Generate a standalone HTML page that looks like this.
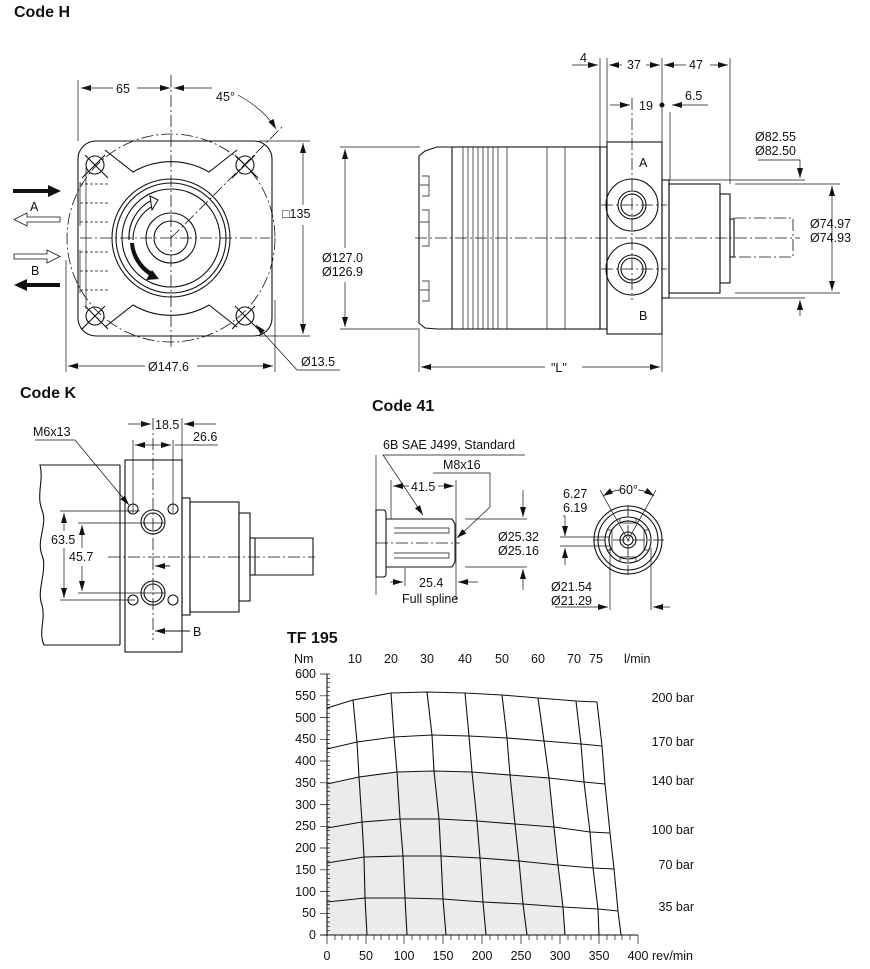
<!DOCTYPE html>
<html><head><meta charset="utf-8"><style>
html,body{margin:0;padding:0;background:#fff;}
svg{display:block;}
text{font-family:"Liberation Sans",Arial,sans-serif;font-size:12.5px;fill:#111;}
.b{font-weight:bold;font-size:16px;}
.l{stroke:#111;stroke-width:1.1;fill:none;}
.t{stroke:#111;stroke-width:0.7;fill:none;}
.cl{stroke:#111;stroke-width:0.8;fill:none;stroke-dasharray:12 3 2 3;}
.d{stroke:#111;stroke-width:0.8;fill:none;stroke-dasharray:3 2;}
</style></head><body>
<svg width="870" height="969" viewBox="0 0 870 969" xmlns="http://www.w3.org/2000/svg">
<defs>
<marker id="a" viewBox="0 0 10 6" refX="10" refY="3" markerWidth="10" markerHeight="6" orient="auto-start-reverse" markerUnits="userSpaceOnUse"><path d="M0,0 L10,3 L0,6 z" fill="#111"/></marker>
</defs>

<!-- ============ CODE H FRONT ============ -->
<text x="14" y="17" class="b">Code H</text>
<rect x="78" y="141" width="194" height="195" rx="18" class="l"/>
<circle cx="171" cy="238" r="104" class="cl"/>
<path d="M105,150 L133,172 A75,75 0 0 1 209,172 L237,150" class="l"/>
<path d="M105,327 L133,305 A75,75 0 0 0 209,305 L237,327" class="l"/>
<path d="M86,168 L86,309" class="t"/>
<circle cx="171" cy="238" r="59" class="l"/>
<circle cx="171" cy="238" r="55" class="l"/>
<circle cx="171" cy="238" r="49" class="l"/>
<circle cx="171" cy="238" r="25" class="l"/>
<circle cx="171" cy="238" r="17" class="l"/>
<path d="M133,240 A38,38 0 0 1 155,205" class="l"/>
<path d="M129,240 A42,42 0 0 1 152,200" class="l"/>
<path d="M150,196 L158,200 L152,210 z" fill="#fff" stroke="#111"/>
<path d="M130,243 A42,42 0 0 0 150,276 L152,272 A38,38 0 0 1 134,243 z" fill="#111"/>
<path d="M146,280 L159,279 L152,270 z" fill="#111"/>
<g class="l">
<circle cx="95" cy="165" r="9"/><circle cx="245" cy="165" r="9"/>
<circle cx="95" cy="316" r="9"/><circle cx="245" cy="316" r="9"/>
<path d="M85,155 L108,178 M105,155 L82,178 M235,155 L258,178 M255,155 L232,178 M85,306 L108,329 M105,306 L82,329 M235,306 L258,329 M255,306 L232,329"/>
</g>
<line x1="171" y1="75" x2="171" y2="350" class="cl"/>
<line x1="80" y1="238" x2="270" y2="238" class="cl"/>
<line x1="171" y1="238" x2="283" y2="126" class="cl"/>
<path d="M80,184 L110,184 M80,203 L110,203 M80,222 L110,222 M80,252 L110,252 M80,271 L110,271 M80,290 L110,290" class="d"/>
<path d="M80,182 L80,226 M80,250 L80,293" class="t"/>
<path d="M13,191 L50,191" stroke="#111" stroke-width="4"/><path d="M48,185 L61,191 L48,197 z" fill="#111"/>
<text x="30" y="211">A</text>
<path d="M60,217 L27,217 L27,213 L14,219.5 L27,226 L27,222 L60,222 z" fill="#fff" stroke="#111" stroke-width="0.8"/>
<path d="M14,254 L47,254 L47,250 L60,256.5 L47,263 L47,259 L14,259 z" fill="#fff" stroke="#111" stroke-width="0.8"/>
<text x="31" y="275">B</text>
<path d="M60,285 L25,285" stroke="#111" stroke-width="4"/><path d="M27,279 L14,285 L27,291 z" fill="#111"/>
<line x1="78" y1="80" x2="78" y2="141" class="t"/>
<line x1="81" y1="88" x2="113" y2="88" class="t" marker-end="url(#a)" transform="rotate(180 97 88)"/>
<line x1="137" y1="88" x2="170" y2="88" class="t" marker-end="url(#a)"/>
<text x="116" y="93">65</text>
<line x1="174" y1="88" x2="212" y2="88" class="t" marker-start="url(#a)"/>
<path d="M238,95 Q265,110 276,129" class="t" marker-end="url(#a)"/>
<text x="216" y="101">45°</text>
<line x1="259" y1="141" x2="310" y2="141" class="t"/>
<line x1="259" y1="336" x2="310" y2="336" class="t"/>
<line x1="303" y1="143" x2="303" y2="205" class="t" marker-start="url(#a)"/>
<line x1="303" y1="225" x2="303" y2="334" class="t" marker-end="url(#a)"/>
<text x="282" y="218">□135</text>
<line x1="66" y1="260" x2="66" y2="372" class="t"/>
<line x1="275" y1="300" x2="275" y2="372" class="t"/>
<line x1="68" y1="366" x2="145" y2="366" class="t" marker-start="url(#a)"/>
<line x1="197" y1="366" x2="273" y2="366" class="t" marker-end="url(#a)"/>
<text x="148" y="371">Ø147.6</text>
<path d="M340,370 L297,370 L256,325" class="t" marker-end="url(#a)"/>
<text x="301" y="366">Ø13.5</text>

<!-- ============ CODE H SIDE ============ -->
<line x1="340" y1="147" x2="420" y2="147" class="t"/>
<line x1="340" y1="329" x2="420" y2="329" class="t"/>
<line x1="345" y1="149" x2="345" y2="248" class="t" marker-start="url(#a)"/>
<line x1="345" y1="282" x2="345" y2="327" class="t" marker-end="url(#a)"/>
<text x="322" y="262">Ø127.0</text>
<text x="322" y="276">Ø126.9</text>
<path d="M452,147 L437,147 L425,151 L419,156 L419,323 L425,328 L437,329 L452,329" class="l"/>
<path d="M422,176 L429,176 L429,196 L422,196 M422,210 L429,210 L429,246 L422,246 M422,281 L429,281 L429,301 L422,301" class="t"/>
<path d="M420,185 L429,185 M420,222 L429,222 M420,290 L429,290" class="t"/>
<rect x="452" y="147" width="148" height="182" class="l"/>
<path d="M463,147V329M468,147V329M473,147V329M478,147V329M483,147V329M488,147V329M493,147V329M498,147V329M507,147V329M547,147V329M565,147V329" class="t"/>
<rect x="600" y="147" width="7" height="182" class="l"/>
<rect x="607" y="142" width="55" height="192" class="l"/>
<circle cx="632" cy="205" r="26" class="l"/><circle cx="632" cy="205" r="14" class="l"/><circle cx="632" cy="205" r="11" class="l"/>
<circle cx="632" cy="269" r="26" class="l"/><circle cx="632" cy="269" r="14" class="l"/><circle cx="632" cy="269" r="11" class="l"/>
<path d="M601,205 L667,205 M601,269 L667,269 M632,98 L632,300" class="cl"/>
<text x="639" y="167">A</text>
<text x="639" y="320">B</text>
<rect x="662" y="180" width="7" height="118" class="l"/>
<rect x="669" y="184" width="51" height="109" class="l"/>
<rect x="720" y="194" width="10" height="89" class="l"/>
<rect x="730" y="219" width="4" height="38" class="l"/>
<path d="M734,218 L793,218 L793,257 L734,257" class="cl"/>
<line x1="415" y1="238" x2="800" y2="238" class="cl"/>
<path d="M600,58V147 M607,58V147 M662,58V142 M730,58V184 M670,112V180" class="t"/>
<line x1="572" y1="65" x2="598" y2="65" class="t" marker-end="url(#a)"/>
<text x="580" y="62">4</text>
<line x1="609" y1="65" x2="622" y2="65" class="t" marker-start="url(#a)"/>
<line x1="646" y1="65" x2="660" y2="65" class="t" marker-end="url(#a)"/>
<text x="627" y="69">37</text>
<line x1="664" y1="65" x2="686" y2="65" class="t" marker-start="url(#a)"/>
<line x1="710" y1="65" x2="728" y2="65" class="t" marker-end="url(#a)"/>
<text x="689" y="69">47</text>
<line x1="610" y1="105" x2="630" y2="105" class="t" marker-end="url(#a)"/>
<text x="639" y="110">19</text>
<circle cx="662" cy="105" r="2.5" fill="#111"/>
<line x1="708" y1="105" x2="672" y2="105" class="t" marker-end="url(#a)"/>
<text x="685" y="100">6.5</text>
<text x="755" y="141">Ø82.55</text>
<text x="755" y="155">Ø82.50</text>
<path d="M758,160 L800,160 L800,178" class="t" marker-end="url(#a)"/>
<line x1="669" y1="180" x2="805" y2="180" class="t"/>
<line x1="735" y1="184" x2="840" y2="184" class="t"/>
<line x1="735" y1="293" x2="840" y2="293" class="t"/>
<line x1="669" y1="298" x2="805" y2="298" class="t"/>
<line x1="800" y1="316" x2="800" y2="300" class="t" marker-end="url(#a)"/>
<line x1="832" y1="186" x2="832" y2="291" class="t" marker-start="url(#a)" marker-end="url(#a)"/>
<text x="810" y="228">Ø74.97</text>
<text x="810" y="242">Ø74.93</text>
<path d="M419,330V372 M662,334V372" class="t"/>
<line x1="421" y1="367" x2="545" y2="367" class="t" marker-start="url(#a)"/>
<line x1="582" y1="367" x2="660" y2="367" class="t" marker-end="url(#a)"/>
<text x="551" y="372">"L"</text>

<!-- ============ CODE K ============ -->
<text x="20" y="398" class="b">Code K</text>
<path d="M120,465 L40,465 C44,480 36,495 42,510 C48,525 36,540 42,555 C48,570 36,590 42,605 C46,620 38,632 44,645 L120,645" class="l"/>
<line x1="120" y1="465" x2="120" y2="645" class="l"/>
<rect x="125" y="460" width="57" height="192" class="l"/>
<rect x="182" y="498" width="8" height="117" class="l"/>
<rect x="190" y="502" width="49" height="110" class="l"/>
<rect x="239" y="513" width="11" height="88" class="l"/>
<rect x="250" y="538" width="5" height="37" class="l"/>
<path d="M255,538 L313,538 L313,575 L255,575" class="l"/>
<line x1="108" y1="557" x2="315" y2="557" class="cl"/>
<line x1="153" y1="418" x2="153" y2="640" class="cl"/>
<g class="l">
<circle cx="153" cy="522" r="12"/><circle cx="153" cy="522" r="9"/>
<circle cx="153" cy="593" r="12"/><circle cx="153" cy="593" r="9"/>
<circle cx="133" cy="509" r="5"/><circle cx="173" cy="509" r="5"/>
<circle cx="133" cy="600" r="5"/><circle cx="173" cy="600" r="5"/>
</g>
<path d="M133,440V513 M173,440V513 M182,418V460" class="t"/>
<line x1="128" y1="424" x2="151" y2="424" class="t" marker-end="url(#a)"/>
<text x="155" y="429">18.5</text>
<line x1="216" y1="424" x2="184" y2="424" class="t" marker-end="url(#a)"/>
<line x1="135" y1="445" x2="171" y2="445" class="t" marker-start="url(#a)" marker-end="url(#a)"/>
<line x1="175" y1="445" x2="218" y2="445" class="t"/>
<text x="193" y="441">26.6</text>
<text x="33" y="436">M6x13</text>
<path d="M35,440 L75,440 L129,505" class="t" marker-end="url(#a)"/>
<path d="M60,511 L140,511 M60,600 L135,600 M78,523 L165,523 M78,593 L165,593" class="t"/>
<line x1="64" y1="513" x2="64" y2="531" class="t" marker-start="url(#a)"/>
<line x1="64" y1="548" x2="64" y2="598" class="t" marker-end="url(#a)"/>
<text x="51" y="544">63.5</text>
<line x1="82" y1="525" x2="82" y2="548" class="t" marker-start="url(#a)"/>
<line x1="82" y1="566" x2="82" y2="591" class="t" marker-end="url(#a)"/>
<text x="69" y="561">45.7</text>
<line x1="170" y1="566" x2="155" y2="566" stroke="#111" stroke-width="1" marker-end="url(#a)"/>
<line x1="190" y1="631" x2="155" y2="631" stroke="#111" stroke-width="1" marker-end="url(#a)"/>
<text x="193" y="636">B</text>

<!-- ============ CODE 41 ============ -->
<text x="372" y="411" class="b">Code 41</text>
<text x="383" y="449">6B SAE J499, Standard</text>
<path d="M525,455 L383,455 L423,515" class="t" marker-end="url(#a)"/>
<text x="443" y="469">M8x16</text>
<path d="M433,473 L490,473 L490,507 L457,538" class="t" marker-end="url(#a)"/>
<line x1="376" y1="455" x2="376" y2="595" class="t"/>
<path d="M376,510 L384,510 Q386,511 386,514 L386,574 Q386,577 383,577 L376,577 z" class="l"/>
<path d="M386,519 L452,519 L455,524 L455,562 L452,567 L386,567" class="l"/>
<path d="M394,528 L449,528 L449,533 L394,533 M394,553 L449,553 L449,558 L394,558" class="t"/>
<line x1="376" y1="543" x2="460" y2="543" class="cl"/>
<path d="M391,480V519 M456,480V600" class="t"/>
<line x1="393" y1="486" x2="409" y2="486" class="t" marker-start="url(#a)"/>
<line x1="438" y1="486" x2="454" y2="486" class="t" marker-end="url(#a)"/>
<text x="411" y="491">41.5</text>
<line x1="405" y1="568" x2="405" y2="586" class="t"/>
<line x1="390" y1="582" x2="403" y2="582" class="t" marker-end="url(#a)"/>
<line x1="478" y1="582" x2="458" y2="582" class="t" marker-end="url(#a)"/>
<text x="419" y="587">25.4</text>
<text x="402" y="603">Full spline</text>
<line x1="465" y1="519" x2="527" y2="519" class="t"/>
<line x1="465" y1="567" x2="527" y2="567" class="t"/>
<line x1="523" y1="490" x2="523" y2="517" class="t" marker-end="url(#a)"/>
<line x1="523" y1="590" x2="523" y2="569" class="t" marker-end="url(#a)"/>
<text x="498" y="541">Ø25.32</text>
<text x="498" y="555">Ø25.16</text>
<g class="l">
<circle cx="628" cy="540" r="34"/><circle cx="628" cy="540" r="30"/>
<circle cx="628" cy="540" r="23"/><circle cx="628" cy="540" r="19"/>
<circle cx="628" cy="540" r="8"/><circle cx="628" cy="540" r="5"/>
</g>
<path d="M607,530 L612,530 L612,550 L607,550 M649,530 L644,530 L644,550 L649,550 M620,519 L620,523 L636,523 L636,519 M620,561 L620,557 L636,557 L636,561" class="t"/>
<path d="M593,540 L664,540 M628,505 L628,575" class="cl"/>
<path d="M628,540 L600,490 M628,540 L656,490" class="t"/>
<path d="M603,496 Q613,490 620,490" class="t" marker-start="url(#a)"/>
<path d="M638,490 Q645,490 654,496" class="t" marker-end="url(#a)"/>
<text x="619" y="494">60°</text>
<text x="563" y="498">6.27</text>
<text x="563" y="512">6.19</text>
<path d="M563,516 L565,516 L565,536" class="t" marker-end="url(#a)"/>
<line x1="560" y1="537" x2="610" y2="537" class="t"/>
<line x1="560" y1="546" x2="610" y2="546" class="t"/>
<line x1="565" y1="565" x2="565" y2="548" class="t" marker-end="url(#a)"/>
<path d="M610,548V610 M651,548V610" class="t"/>
<text x="551" y="591">Ø21.54</text>
<text x="551" y="605">Ø21.29</text>
<line x1="555" y1="607" x2="608" y2="607" class="t" marker-end="url(#a)"/>
<line x1="670" y1="607" x2="653" y2="607" class="t" marker-end="url(#a)"/>

<!-- ============ TF 195 CHART ============ -->
<text x="287" y="643" class="b">TF 195</text>
<g>
<text x="294" y="663">Nm</text>
<text x="348" y="663">10</text><text x="384" y="663">20</text><text x="420" y="663">30</text>
<text x="458" y="663">40</text><text x="495" y="663">50</text><text x="531" y="663">60</text>
<text x="567" y="663">70</text><text x="589" y="663">75</text><text x="624" y="663">l/min</text>
</g>
<path d="M327,935 L327,784 L359,777 L397,772 L434,771 L472,772 L510,775 L549,778 L554,827 L558,865 L563,907 L565,935 z" fill="#ebebeb"/>
<g class="l">
<polyline points="327,708 353,700 391,693 427,692 465,693 502,695 538,698 576,701 597,702"/>
<polyline points="327,749 357,742 394,737 432,735 469,736 507,738 544,741 581,744 602,746"/>
<polyline points="327,784 359,777 397,772 434,771 472,772 510,775 549,778 584,782 605,784"/>
<polyline points="327,828 362,822 400,819 439,819 477,821 515,824 554,827 590,832 610,833"/>
<polyline points="327,863 364,857 403,856 441,856 480,858 519,861 558,865 593,868 614,869"/>
<polyline points="327,902 365,898 405,898 443,899 483,902 523,904 563,907 598,909 618,911"/>
<polyline points="353,700 357,742 359,777 362,822 364,857 365,898 367,935"/>
<polyline points="391,693 394,737 397,772 400,819 403,856 405,898 407,935"/>
<polyline points="427,692 432,735 434,771 439,819 441,856 443,899 446,935"/>
<polyline points="465,693 469,736 472,772 477,821 480,858 483,902 486,935"/>
<polyline points="502,695 507,738 510,775 515,824 519,861 523,904 527,935"/>
<polyline points="538,698 544,741 549,778 554,827 558,865 563,907 565,935"/>
<polyline points="576,701 581,744 584,782 590,832 593,868 598,909 599,935"/>
<polyline points="597,702 602,746 605,784 610,833 614,869 618,911 621,935"/>
</g>
<line x1="327" y1="674" x2="327" y2="936" class="l"/>
<line x1="320" y1="935" x2="638" y2="935" class="l"/>
<path d="M327,674.0h3M327,678.4h3M327,682.7h3M327,687.1h3M327,691.4h3M327,695.8h3M327,700.1h3M327,704.5h3M327,708.8h3M327,713.2h3M327,717.5h3M327,721.9h3M327,726.2h3M327,730.6h3M327,734.9h3M327,739.3h3M327,743.6h3M327,748.0h3M327,752.3h3M327,756.7h3M327,761.0h3M327,765.4h3M327,769.7h3M327,774.1h3M327,778.4h3M327,782.8h3M327,787.1h3M327,791.5h3M327,795.8h3M327,800.2h3M327,804.5h3M327,808.9h3M327,813.2h3M327,817.6h3M327,821.9h3M327,826.3h3M327,830.6h3M327,835.0h3M327,839.3h3M327,843.7h3M327,848.0h3M327,852.4h3M327,856.7h3M327,861.1h3M327,865.4h3M327,869.8h3M327,874.1h3M327,878.5h3M327,882.8h3M327,887.2h3M327,891.5h3M327,895.9h3M327,900.2h3M327,904.6h3M327,908.9h3M327,913.3h3M327,917.6h3M327,922.0h3M327,926.3h3M327,930.7h3" class="t"/>
<path d="M320,674h7M320,695.8h7M320,717.5h7M320,739.3h7M320,761h7M320,782.8h7M320,804.5h7M320,826.3h7M320,848h7M320,869.8h7M320,891.5h7M320,913.3h7" class="t"/>
<path d="M327,935v9M366,935v9M404,935v9M443,935v9M482,935v9M521,935v9M560,935v9M599,935v9M638,935v9" class="t"/>
<path d="M335,935v5M342,935v5M350,935v5M358,935v5M374,935v5M381,935v5M389,935v5M397,935v5M412,935v5M420,935v5M428,935v5M436,935v5M451,935v5M459,935v5M467,935v5M475,935v5M490,935v5M498,935v5M506,935v5M514,935v5M529,935v5M537,935v5M545,935v5M552,935v5M568,935v5M576,935v5M584,935v5M591,935v5M607,935v5M615,935v5M622,935v5M630,935v5" class="t"/>
<g text-anchor="end">
<text x="316" y="678">600</text><text x="316" y="700">550</text><text x="316" y="722">500</text>
<text x="316" y="743">450</text><text x="316" y="765">400</text><text x="316" y="787">350</text>
<text x="316" y="809">300</text><text x="316" y="830">250</text><text x="316" y="852">200</text>
<text x="316" y="874">150</text><text x="316" y="896">100</text><text x="316" y="917">50</text>
<text x="316" y="939">0</text>
</g>
<g text-anchor="middle">
<text x="327" y="960">0</text><text x="366" y="960">50</text><text x="404" y="960">100</text>
<text x="443" y="960">150</text><text x="482" y="960">200</text><text x="521" y="960">250</text>
<text x="560" y="960">300</text><text x="599" y="960">350</text><text x="638" y="960">400</text>
</g>
<text x="652" y="960">rev/min</text>
<g text-anchor="end">
<text x="694" y="702">200 bar</text><text x="694" y="746">170 bar</text>
<text x="694" y="785">140 bar</text><text x="694" y="834">100 bar</text>
<text x="694" y="869">70 bar</text><text x="694" y="911">35 bar</text>
</g>
</svg>
</body></html>
